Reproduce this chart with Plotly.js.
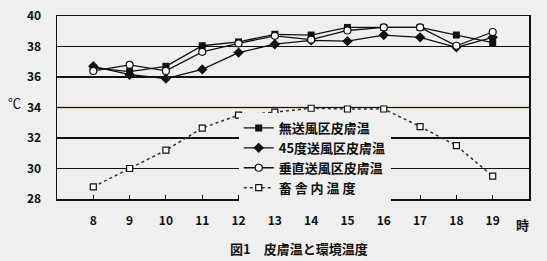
<!DOCTYPE html>
<html><head><meta charset="utf-8">
<script src="https://cdn.plot.ly/plotly-3.0.1.min.js"></script>
<style>html,body{margin:0;padding:0;background:#efefef;}#chart{width:547px;height:261px;}</style>
</head><body><div id="chart"></div>
<script>
const hours = [8,9,10,11,12,13,14,15,16,17,18,19];
const noWind = [36.6,36.35,36.7,38.05,38.3,38.8,38.75,39.25,39.25,39.25,38.75,38.25];
const deg45 = [36.7,36.15,35.9,36.5,37.6,38.15,38.4,38.35,38.75,38.6,37.95,38.6];
const vertical = [36.4,36.8,36.4,37.65,38.2,38.7,38.45,39.05,39.25,39.25,38.05,38.95];
const barn = [28.8,30.0,31.2,32.65,33.5,33.7,33.95,33.9,33.9,32.75,31.5,29.5];
const names = ['無送風区皮膚温','45度送風区皮膚温','垂直送風区皮膚温','畜 舎 内 温 度'];
const yTicks = [28,30,32,34,36,38,40];

const F = '"Noto Sans CJK JP", "DejaVu Sans Condensed", sans-serif';
const traces = [
  {x:hours,y:noWind,name:names[0],mode:'lines+markers',line:{color:'#111',width:1.3},marker:{symbol:'square',size:7,color:'#111'}},
  {x:hours,y:deg45,name:names[1],mode:'lines+markers',line:{color:'#111',width:1.3},marker:{symbol:'diamond',size:8,color:'#111'}},
  {x:hours,y:vertical,name:names[2],mode:'lines+markers',line:{color:'#111',width:1.3},marker:{symbol:'circle',size:7,color:'#fff',line:{color:'#111',width:1.2}}},
  {x:hours,y:barn,name:names[3],mode:'lines+markers',line:{color:'#333',width:1.5,dash:'dot'},marker:{symbol:'square',size:6,color:'#fff',line:{color:'#111',width:1.2}}}
];
const shapes = [{type:'line',xref:'paper',yref:'y',x0:0,x1:1,y0:34,y1:34,line:{color:'#b8742e',width:1.5},layer:'below'}];
const layout = {
  width:547,height:261,
  margin:{l:57,r:18,t:16,b:62},
  paper_bgcolor:'#efefef',plot_bgcolor:'#efefef',
  font:{family:F,color:'#111',size:12},
  showlegend:true,
  legend:{x:0.385,y:0.47,xanchor:'left',yanchor:'top',bgcolor:'#efefef',borderwidth:0,
    font:{family:F,size:13,color:'#111',weight:'bold'},tracegroupgap:0,itemwidth:30},
  xaxis:{range:[7,20],tickvals:hours,ticktext:hours.map(String),ticks:'inside',ticklen:4,tickcolor:'#111',
    showgrid:false,zeroline:false,showline:true,linecolor:'#111',linewidth:1.5,mirror:true,
    ticklabelstandoff:10,tickfont:{family:F,size:12,weight:'bold'}},
  yaxis:{range:[28,40],tickvals:yTicks,ticks:'',showgrid:true,gridcolor:'#111',gridwidth:1.2,
    zeroline:false,showline:true,linecolor:'#111',linewidth:1.5,mirror:true,
    ticklabelstandoff:12,tickfont:{family:F,size:12,weight:'bold'}},
  shapes:shapes,
  annotations:[
    {text:'℃',xref:'paper',yref:'paper',x:-0.091,y:0.53,xanchor:'center',yanchor:'middle',showarrow:false,font:{family:F,size:13}},
    {text:'時',xref:'paper',yref:'paper',x:0.987,y:-0.142,xanchor:'center',yanchor:'middle',showarrow:false,font:{family:F,size:13,weight:'bold'}},
    {text:'図1　皮膚温と環境温度',xref:'paper',yref:'paper',x:0.513,y:-0.268,xanchor:'center',yanchor:'middle',showarrow:false,font:{family:F,size:13,weight:'bold'}}
  ]
};
Plotly.newPlot('chart',traces,layout,{staticPlot:true,displayModeBar:false});
</script></body></html>
